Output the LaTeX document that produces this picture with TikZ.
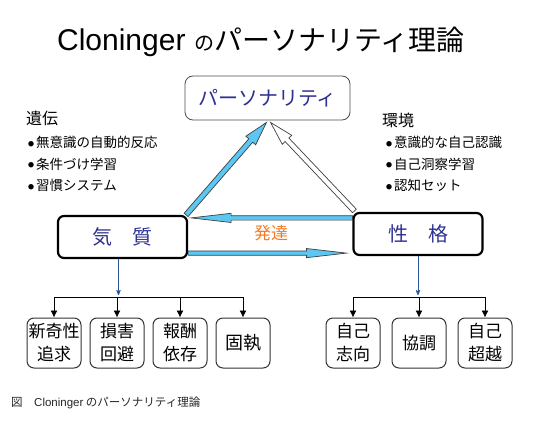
\documentclass[tikz,border=0pt]{standalone}
\usepackage{fontspec}
\setmainfont{Noto Sans CJK JP}
\newfontfamily\latin{Liberation Sans}
\usetikzlibrary{positioning, calc, arrows, arrows.meta}

\definecolor{navy}{HTML}{2E3092}
\definecolor{sky}{HTML}{5BC7F2}
\definecolor{devorange}{HTML}{F47A22}
\definecolor{stemblue}{HTML}{2A5597}

\newcommand{\dotitem}{\raisebox{1.5pt}{\fontsize{6}{6}\selectfont ●}\hspace{2pt}}

% fill, shaft half width, head half width, head length, from, to
\newcommand{\fatarrow}[6]{%
  \coordinate (head) at ($(#6)!#4!(#5)$);
  \draw[fatline, fill=#1] ($(#5)!#2!90:(#6)$) -- ($(head)!#2!-90:(#5)$)
    -- ($(head)!#3!-90:(#5)$) -- (#6) -- ($(head)!#3!90:(#5)$)
    -- ($(head)!#2!90:(#5)$) -- ($(#5)!#2!-90:(#6)$) -- cycle;
}

\begin{document}
\begin{tikzpicture}
[x=1pt, y=-1pt,
 >={Latex[length=7pt,width=7pt]},
 node distance=8pt,
 every node/.style={inner sep=0pt},
 mainbox/.style={draw, line width=2.2pt, rounded corners=6pt,
   minimum width=129pt, minimum height=42pt, text=navy,
   font=\fontsize{20}{20}\selectfont},
 persbox/.style={draw=black!70, line width=0.8pt, rounded corners=8pt,
   minimum width=165pt, minimum height=44pt, text=navy,
   font=\fontsize{20}{20}\selectfont},
 leaf/.style={draw=black!80, line width=1pt, rounded corners=7pt,
   minimum width=54pt, minimum height=50pt, align=center,
   font=\fontsize{17}{23}\selectfont},
 heading/.style={anchor=west, font=\fontsize{16}{16}\selectfont},
 bullets/.style={anchor=north west, align=left,
   font=\fontsize{13.5}{21.5}\selectfont},
 fatline/.style={draw=black!75, line width=0.7pt, line join=miter},
 stem/.style={->, >=stealth', draw=stemblue, line width=0.8pt}
]
\useasboundingbox (0,0) rectangle (540,420);

\node (title) at (261,42) {{\fontsize{30}{30}\selectfont\latin Cloninger}\hspace{9pt}%
  {\fontsize{20}{20}\selectfont の}{\fontsize{28}{28}\selectfont パーソナリティ理論}};

\node[persbox] (pers) at (267.5,98) {パーソナリティ};
\node[mainbox] (ki) at (122.5,237) {気　質};
\node[mainbox] (sei) at (418,234) {性　格};

\node[heading] (heredity) at (26,118) {遺伝};
\node[bullets] (herlist) at (28,136) {\dotitem 無意識の自動的反応\\\dotitem 条件づけ学習\\\dotitem 習慣システム};
\node[heading] (environ) at (382,120) {環境};
\node[bullets] (envlist) at (386,136) {\dotitem 意識的な自己認識\\\dotitem 自己洞察学習\\\dotitem 認知セット};

% triangle
\coordinate (kitop) at ($(ki.north east)+(-2,0)$);
\coordinate (seitop) at ($(sei.north west)+(2,-1)$);
\coordinate (perl) at ($(pers.south)+(-1,2)$);
\coordinate (perr) at ($(pers.south)+(3,2)$);
\fatarrow{sky}{2.6pt}{6.5pt}{24pt}{kitop}{perl}
\fatarrow{white}{2.6pt}{6.5pt}{24pt}{seitop}{perr}

\coordinate (devfrom) at ($(sei.north west)+(0,6)$);
\coordinate (devto) at ($(sei.north west -| ki.east)+(3,6)$);
\fatarrow{sky}{2.2pt}{4.6pt}{40pt}{devfrom}{devto}
\coordinate (matfrom) at ($(ki.south east)+(0,-6)$);
\coordinate (matto) at ($(ki.south east -| sei.west)+(-6,-6)$);
\fatarrow{sky}{2.2pt}{4.6pt}{40pt}{matfrom}{matto}
\node[text=devorange, font=\fontsize{17}{17}\selectfont] (dev) at (271,233) {発達};

% temperament
\node[leaf] (novelty) at (54,343) {新奇性\\追求};
\node[leaf, right=of novelty] (harm) {損害\\回避};
\node[leaf, right=of harm] (reward) {報酬\\依存};
\node[leaf, right=of reward, font=\fontsize{18}{18}\selectfont] (persist) {固執};
\coordinate (lbar) at ($(ki.south)+(-4,38)$);
\draw[stem] ([xshift=-4pt]ki.south) -- ($(lbar)+(0,-2)$);
\draw[line width=0.8pt] (novelty.north |- lbar) -- (persist.north |- lbar);
\foreach \n in {novelty, harm, reward, persist}
  \draw[->, line width=0.8pt] (\n.north |- lbar) -- (\n.north);

% character
\node[leaf] (selfdir) at (353,343) {自己\\志向};
\node[leaf, right=11pt of selfdir] (coop) {協調};
\node[leaf, right=11pt of coop] (selftr) {自己\\超越};
\coordinate (rbar) at ($(sei.south)+(0,41)$);
\draw[stem] (sei.south) -- ($(rbar)+(0,-2)$);
\draw[line width=0.8pt] (selfdir.north |- rbar) -- (selftr.north |- rbar);
\foreach \n in {selfdir, coop, selftr}
  \draw[->, line width=0.8pt] (\n.north |- rbar) -- (\n.north);

\node[anchor=west, font=\fontsize{11.5}{11.5}\selectfont, text=black!85] (caption) at (11,403)
  {図　{\latin Cloninger} のパーソナリティ理論};
\end{tikzpicture}
\end{document}
